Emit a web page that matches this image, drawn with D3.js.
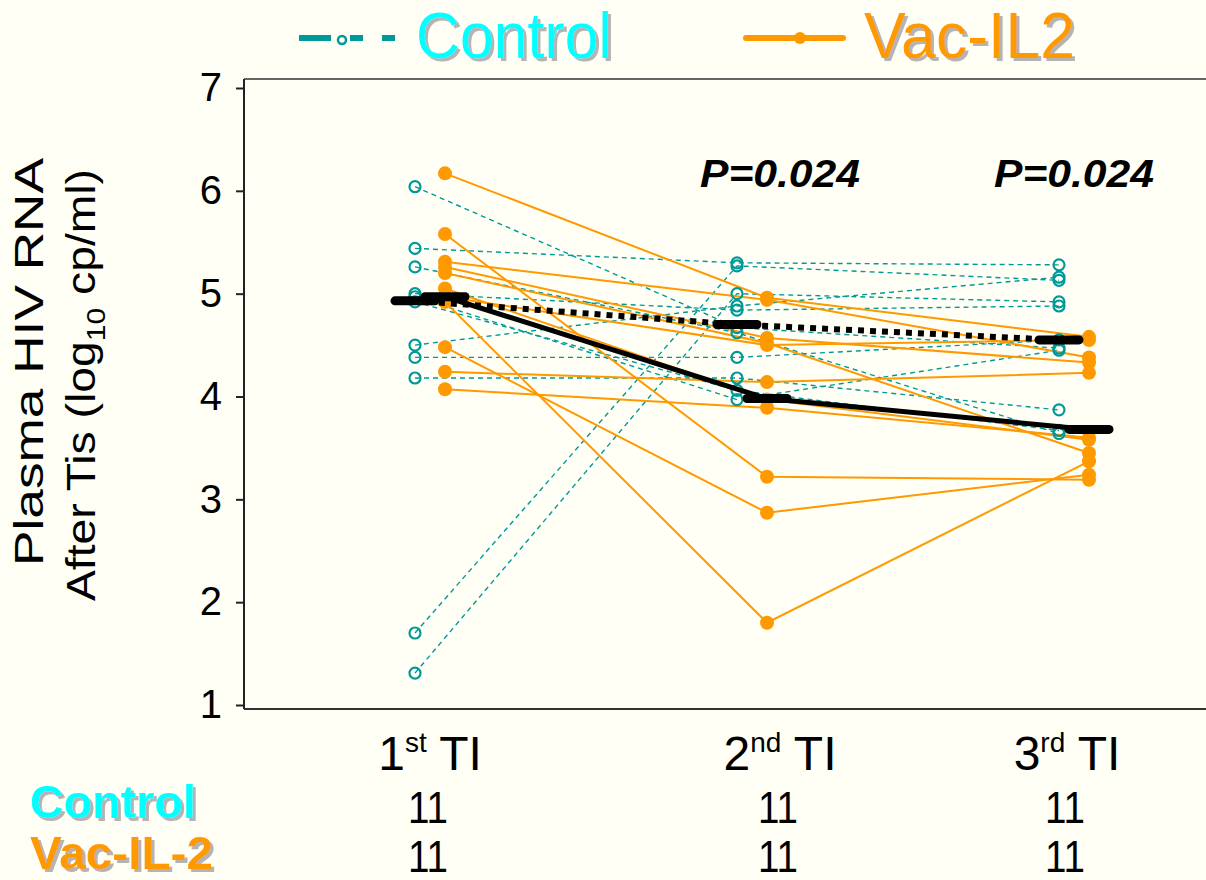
<!DOCTYPE html>
<html>
<head>
<meta charset="utf-8">
<script src="https://cdn.jsdelivr.net/npm/d3@7/dist/d3.min.js"></script>
<style>
  body { margin: 0; background: #fffff6; }
  svg { display: block; }
</style>
</head>
<body>
<svg id="chart" width="1206" height="880"></svg>
<script>
// categories and labels
const visits = ["1st TI", "2nd TI", "3rd TI"];
const visitNum = ["1", "2", "3"];
const visitSup = ["st", "nd", "rd"];
const yTicks = [1, 2, 3, 4, 5, 6, 7];
const pLabels = ["", "P=0.024", "P=0.024"];
const countsControl = [11, 11, 11];
const countsVac = [11, 11, 11];

// one row per subject: [1st TI, 2nd TI, 3rd TI]  (log10 cp/ml)
const controlSubjects = [
  [6.04, 4.67, 4.47],
  [5.44, 5.30, 5.28],
  [5.26, 4.62, 3.64],
  [5.00, 4.84, 4.88],
  [4.92, 4.06, 3.67],
  [4.50, 4.88, 5.16],
  [4.38, 4.38, 4.55],
  [4.18, 4.18, 3.87],
  [1.70, 5.27, 5.13],
  [1.31, 5.00, 4.92],
  [4.97, 3.97, 4.45]
];
const vacSubjects = [
  [6.17, 4.96, 4.58],
  [5.58, 3.22, 3.19],
  [5.31, 4.94, 4.38],
  [5.26, 4.57, 4.33],
  [5.20, 4.52, 3.45],
  [4.97, 4.50, 4.55],
  [4.92, 1.80, 3.37],
  [4.48, 2.87, 3.24],
  [4.24, 4.14, 4.23],
  [4.07, 3.89, 3.60],
  [5.05, 3.97, 3.58]
];
const controlMeans = [4.93, 4.70, 4.55];
const vacMeans = [4.97, 3.98, 3.68];

const teal = "#009999";
const cyan = "#00ffff";
const orange = "#ff9900";
const font = "'Liberation Sans', Arial, sans-serif";

const svg = d3.select("#chart");

// grey drop shadow for the coloured labels
const shadow = svg.append("defs").append("filter")
  .attr("id", "shadow")
  .attr("x", "-5%").attr("y", "-5%")
  .attr("width", "115%").attr("height", "120%");
shadow.append("feOffset").attr("in", "SourceAlpha").attr("dx", 3).attr("dy", 3).attr("result", "off");
shadow.append("feFlood").attr("flood-color", "#b4b4b4");
shadow.append("feComposite").attr("in2", "off").attr("operator", "in").attr("result", "sh");
const merge = shadow.append("feMerge");
merge.append("feMergeNode").attr("in", "sh");
merge.append("feMergeNode").attr("in", "SourceGraphic");

const x = d3.scalePoint().domain(visits).range([430, 1074]);
const y = d3.scaleLinear().domain([1, 7]).range([705, 88]);
const offControl = -15, offVac = 15;

const plotLeft = 244, plotTop = 79, plotBottom = 709, plotRight = 1206;

function shadowText(parent, tx, ty, str, opts) {
  return parent.append("text")
    .attr("x", tx)
    .attr("y", ty)
    .attr("font-family", font)
    .attr("font-size", opts.size)
    .attr("font-weight", opts.weight || "normal")
    .attr("fill", opts.fill)
    .attr("filter", "url(#shadow)")
    .attr("textLength", opts.length)
    .attr("lengthAdjust", "spacingAndGlyphs")
    .text(str);
}

// frame
svg.append("line")
  .attr("x1", plotLeft).attr("x2", plotRight)
  .attr("y1", plotTop).attr("y2", plotTop)
  .attr("stroke", "#666").attr("stroke-width", 2);
svg.append("line")
  .attr("x1", plotLeft).attr("x2", plotRight)
  .attr("y1", plotBottom).attr("y2", plotBottom)
  .attr("stroke", "#333").attr("stroke-width", 2);

const yAxis = d3.axisLeft(y)
  .tickValues(yTicks)
  .tickSize(8)
  .tickPadding(14)
  .tickFormat(d3.format("d"));
const yg = svg.append("g")
  .attr("transform", `translate(${plotLeft},0)`)
  .call(yAxis);
yg.select(".domain").remove();
yg.selectAll(".tick line").attr("stroke", "#222").attr("stroke-width", 2);
yg.selectAll(".tick text")
  .attr("font-family", font)
  .attr("font-size", 40)
  .attr("fill", "#000");
svg.append("line")
  .attr("x1", plotLeft).attr("x2", plotLeft)
  .attr("y1", plotTop).attr("y2", plotBottom)
  .attr("stroke", "#222").attr("stroke-width", 2);

// y title
const yTitle = svg.append("g").attr("font-family", font).attr("font-size", 40).attr("fill", "#000");
yTitle.append("text")
  .attr("transform", "translate(43,362) rotate(-90)")
  .attr("text-anchor", "middle")
  .attr("textLength", 408).attr("lengthAdjust", "spacingAndGlyphs")
  .text("Plasma HIV RNA");
const t2 = yTitle.append("text")
  .attr("transform", "translate(95,385) rotate(-90)")
  .attr("text-anchor", "middle")
  .attr("textLength", 432).attr("lengthAdjust", "spacingAndGlyphs");
t2.append("tspan").text("After Tis (log");
t2.append("tspan").attr("font-size", 26).attr("dy", 10).text("10");
t2.append("tspan").attr("dy", -10).text(" cp/ml)");

// subject lines
const lineFor = off => d3.line()
  .x((d, i) => x(visits[i]) + off)
  .y(d => y(d));

svg.append("g").selectAll("path")
  .data(controlSubjects)
  .enter().append("path")
  .attr("d", lineFor(offControl))
  .attr("fill", "none")
  .attr("stroke", teal)
  .attr("stroke-width", 1.4)
  .attr("stroke-dasharray", "5,4");

svg.append("g").selectAll("path")
  .data(vacSubjects)
  .enter().append("path")
  .attr("d", lineFor(offVac))
  .attr("fill", "none")
  .attr("stroke", orange)
  .attr("stroke-width", 2);

// points
const ctrlPts = controlSubjects.flatMap(s => s.map((v, i) => ({ v, i })));
const vacPts = vacSubjects.flatMap(s => s.map((v, i) => ({ v, i })));

svg.append("g").selectAll("circle")
  .data(ctrlPts)
  .enter().append("circle")
  .attr("cx", d => x(visits[d.i]) + offControl)
  .attr("cy", d => y(d.v))
  .attr("r", 5.5)
  .attr("fill", "none")
  .attr("stroke", teal)
  .attr("stroke-width", 2.2);

svg.append("g").selectAll("circle")
  .data(vacPts)
  .enter().append("circle")
  .attr("cx", d => x(visits[d.i]) + offVac)
  .attr("cy", d => y(d.v))
  .attr("r", 7)
  .attr("fill", orange);

// means
svg.append("path")
  .datum(controlMeans)
  .attr("d", lineFor(offControl))
  .attr("fill", "none")
  .attr("stroke", "#000")
  .attr("stroke-width", 6)
  .attr("stroke-dasharray", "6,6");
svg.append("path")
  .datum(vacMeans)
  .attr("d", lineFor(offVac))
  .attr("fill", "none")
  .attr("stroke", "#000")
  .attr("stroke-width", 5);

[[controlMeans, offControl], [vacMeans, offVac]].forEach(([means, off]) => {
  svg.append("g").selectAll("line")
    .data(means)
    .enter().append("line")
    .attr("x1", (d, i) => x(visits[i]) + off - 20)
    .attr("x2", (d, i) => x(visits[i]) + off + 20)
    .attr("y1", d => y(d))
    .attr("y2", d => y(d))
    .attr("stroke", "#000")
    .attr("stroke-width", 9)
    .attr("stroke-linecap", "round");
});

// p values
svg.append("g").selectAll("text")
  .data(pLabels.map((p, i) => ({ p, i })).filter(d => d.p))
  .enter().append("text")
  .attr("x", d => x(visits[d.i]) + (d.i === 1 ? 28 : 0))
  .attr("y", 187)
  .attr("text-anchor", "middle")
  .attr("font-family", font)
  .attr("font-size", 38)
  .attr("font-weight", "bold")
  .attr("font-style", "italic")
  .attr("textLength", 160)
  .attr("lengthAdjust", "spacingAndGlyphs")
  .text(d => d.p);

// x labels
const labelShift = [0, 28, -7];
const xl = svg.append("g").selectAll("text")
  .data(visits)
  .enter().append("text")
  .attr("x", (d, i) => x(d) + labelShift[i])
  .attr("y", 770)
  .attr("text-anchor", "middle")
  .attr("font-family", font)
  .attr("font-size", 48)
  .attr("fill", "#000");
xl.append("tspan").text((d, i) => visitNum[i]);
xl.append("tspan").attr("font-size", 28).attr("dy", -18).text((d, i) => visitSup[i]);
xl.append("tspan").attr("dy", 18).text(" TI");

// counts table
[[countsControl, 823], [countsVac, 872]].forEach(([counts, ty]) => {
  svg.append("g").selectAll("text")
    .data(counts)
    .enter().append("text")
    .attr("x", (d, i) => x(visits[i]) + labelShift[i] - 2)
    .attr("y", ty)
    .attr("text-anchor", "middle")
    .attr("font-family", font)
    .attr("font-size", 44)
    .attr("textLength", 40)
    .attr("lengthAdjust", "spacingAndGlyphs")
    .attr("fill", "#000")
    .text(d => d);
});
shadowText(svg, 30, 818, "Control", { fill: cyan, size: 46, weight: "bold", length: 166 });
shadowText(svg, 30, 869, "Vac-IL-2", { fill: orange, size: 46, weight: "bold", length: 183 });

// legend
const lg = svg.append("g");
[[299, 331], [350, 363], [382, 395]].forEach(([a, b]) => {
  lg.append("line")
    .attr("x1", a).attr("x2", b).attr("y1", 38).attr("y2", 38)
    .attr("stroke", teal).attr("stroke-width", 6);
});
lg.append("circle").attr("cx", 342).attr("cy", 40).attr("r", 4)
  .attr("fill", "none").attr("stroke", teal).attr("stroke-width", 2.5);
shadowText(lg, 416, 58, "Control", { fill: cyan, size: 64, length: 196 });
lg.append("line")
  .attr("x1", 746).attr("x2", 843).attr("y1", 38).attr("y2", 38)
  .attr("stroke", orange).attr("stroke-width", 6).attr("stroke-linecap", "round");
lg.append("circle").attr("cx", 800).attr("cy", 38).attr("r", 6).attr("fill", orange);
shadowText(lg, 864, 58, "Vac-IL2", { fill: orange, size: 64, length: 211 });
</script>
</body>
</html>
